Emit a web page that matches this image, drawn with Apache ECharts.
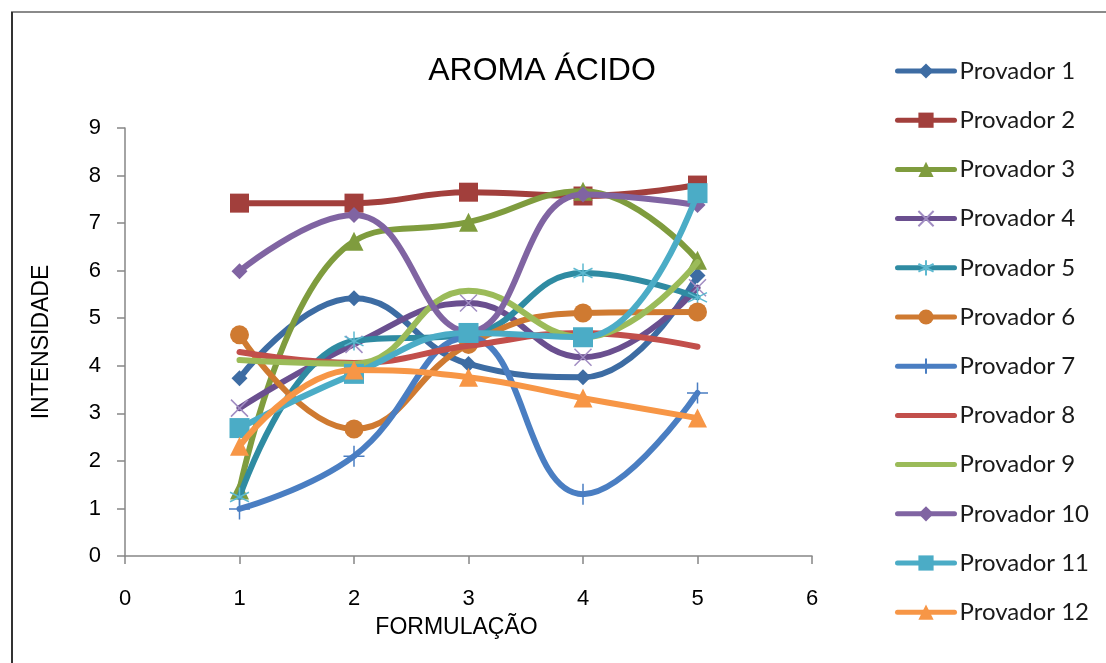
<!DOCTYPE html>
<html>
<head>
<meta charset="utf-8">
<title>AROMA ÁCIDO</title>
<script src="https://cdn.jsdelivr.net/npm/echarts@6/dist/echarts.min.js"></script>
<style>
  html, body { margin: 0; padding: 0; background: #fff; }
  #chart { width: 1106px; height: 663px; }
</style>
</head>
<body>
<div id="chart"></div>
<script>
// Formulations on the x axis
const formulacoes = [1, 2, 3, 4, 5];

// Intensity scores per taster (one value per formulation)
const provador1  = [3.74, 5.42, 4.04, 3.76, 5.90];
const provador2  = [7.42, 7.42, 7.65, 7.57, 7.80];
const provador3  = [1.39, 6.62, 7.02, 7.67, 6.22];
const provador4  = [3.11, 4.45, 5.32, 4.18, 5.64];
const provador5  = [1.24, 4.52, 4.65, 5.95, 5.44];
const provador6  = [4.65, 2.67, 4.45, 5.11, 5.13];
const provador7  = [0.99, 2.10, 4.60, 1.30, 3.43];
const provador8  = [4.29, 4.06, 4.42, 4.69, 4.40];
const provador9  = [4.12, 4.04, 5.58, 4.60, 6.18];
const provador10 = [5.99, 7.17, 4.72, 7.60, 7.38];
const provador11 = [2.69, 3.83, 4.69, 4.60, 7.63];
const provador12 = [2.31, 3.91, 3.76, 3.32, 2.90];

const seriesNames = ['Provador 1', 'Provador 2', 'Provador 3', 'Provador 4', 'Provador 5', 'Provador 6',
                     'Provador 7', 'Provador 8', 'Provador 9', 'Provador 10', 'Provador 11', 'Provador 12'];
const seriesValues = [provador1, provador2, provador3, provador4, provador5, provador6,
                      provador7, provador8, provador9, provador10, provador11, provador12];

// Axis ticks
const xTicks = [0, 1, 2, 3, 4, 5, 6];
const yTicks = [0, 1, 2, 3, 4, 5, 6, 7, 8, 9];

// Styling
const lineColors = ['#3D6CA3', '#A23F3C', '#7F9C3E', '#6A4F8F', '#2F8BA2', '#CF7A31',
                    '#4A7EC2', '#C24F4B', '#9BBB59', '#8064A2', '#4BACC6', '#F79646'];
const markerBorder = ['', '', '', '#A08CC2', '#5EB9D0', '', '#4A7EC2', '', '', '', '', ''];

const SYM_X = 'path://M0,0 L10,10 M10,0 L0,10';
const SYM_STAR = 'path://M5,0 L5,10 M0,2.5 L10,7.5 M0,7.5 L10,2.5';
const SYM_PLUS = 'path://M5,0 L5,10 M0,5 L10,5';
const symbols = ['diamond', 'rect', 'triangle', SYM_X, SYM_STAR, 'circle',
                 SYM_PLUS, 'none', 'none', 'diamond', 'rect', 'triangle'];
const symbolSizes = [16, 19, 19, 17, 19, 19, 21, 0, 0, 16, 20, 19];

const series = seriesNames.map(function (name, i) {
  const strokeMarker = markerBorder[i] !== '';
  return {
    name: name,
    type: 'line',
    smooth: 0.45,
    data: formulacoes.map(function (x, k) { return [x, seriesValues[i][k]]; }),
    symbol: symbols[i],
    symbolSize: symbolSizes[i],
    showSymbol: symbols[i] !== 'none',
    color: lineColors[i],
    lineStyle: { color: lineColors[i], width: 6, cap: 'round', join: 'round' },
    itemStyle: strokeMarker
      ? { color: 'rgba(0,0,0,0)', borderColor: markerBorder[i], borderWidth: 1.5 }
      : { color: lineColors[i], borderWidth: 0 },
    emphasis: { disabled: true },
    z: 2 + i
  };
});

// Legend entries; tasters drawn without markers show only their line
const legendData = seriesNames.map(function (name, i) {
  return symbols[i] === 'none'
    ? { name: name, itemStyle: { opacity: 0 } }
    : { name: name };
});

const chart = echarts.init(document.getElementById('chart'), null, { renderer: 'canvas' });

chart.setOption({
  animation: false,
  backgroundColor: '#ffffff',
  graphic: [
    {
      type: 'rect',
      shape: { x: 12, y: 12, width: 1110, height: 670 },
      style: { fill: 'none', stroke: '#8a8a8a', lineWidth: 2 },
      silent: true
    },
    {
      type: 'line',
      shape: { x1: 12, y1: 12, x2: 12, y2: 663 },
      style: { stroke: '#333333', lineWidth: 2 },
      silent: true
    }
  ],
  title: {
    text: 'AROMA ÁCIDO',
    left: 537,
    top: 50,
    textAlign: 'center',
    textStyle: {
      fontFamily: 'Liberation Sans',
      fontSize: 32,
      fontWeight: 'normal',
      color: '#000'
    }
  },
  legend: {
    orient: 'vertical',
    left: 895,
    top: 58,
    padding: 0,
    itemWidth: 57,
    itemHeight: 19,
    itemGap: 23.2,
    data: legendData,
    lineStyle: { width: 5, cap: 'round' },
    textStyle: {
      fontFamily: 'Lato',
      fontSize: 24,
      lineHeight: 26,
      color: '#1a1a1a'
    }
  },
  grid: {
    left: 125,
    right: 294,
    top: 128,
    bottom: 107,
    containLabel: false
  },
  xAxis: {
    type: 'value',
    min: xTicks[0],
    max: xTicks[xTicks.length - 1],
    interval: 1,
    name: 'FORMULAÇÃO',
    nameLocation: 'middle',
    nameGap: 60,
    nameTextStyle: { fontFamily: 'Liberation Sans', fontSize: 23, color: '#000', padding: [0, 24, 0, 0] },
    axisLine: { show: true, onZero: false, lineStyle: { color: '#868686', width: 1.5 } },
    axisTick: { show: true, inside: false, length: 8, lineStyle: { color: '#868686', width: 1.5 } },
    axisLabel: { margin: 32, fontFamily: 'Liberation Sans', fontSize: 22, color: '#000' },
    splitLine: { show: false }
  },
  yAxis: {
    type: 'value',
    min: yTicks[0],
    max: yTicks[yTicks.length - 1],
    interval: 1,
    name: 'INTENSIDADE',
    nameLocation: 'middle',
    nameGap: 72,
    nameRotate: 90,
    nameTextStyle: { fontFamily: 'Liberation Sans', fontSize: 23, color: '#000' },
    axisLine: { show: true, lineStyle: { color: '#868686', width: 1.5 } },
    axisTick: { show: true, inside: false, length: 8, lineStyle: { color: '#868686', width: 1.5 } },
    axisLabel: { margin: 24, fontFamily: 'Liberation Sans', fontSize: 22, color: '#000' },
    splitLine: { show: false }
  },
  series: series
});
</script>
</body>
</html>
